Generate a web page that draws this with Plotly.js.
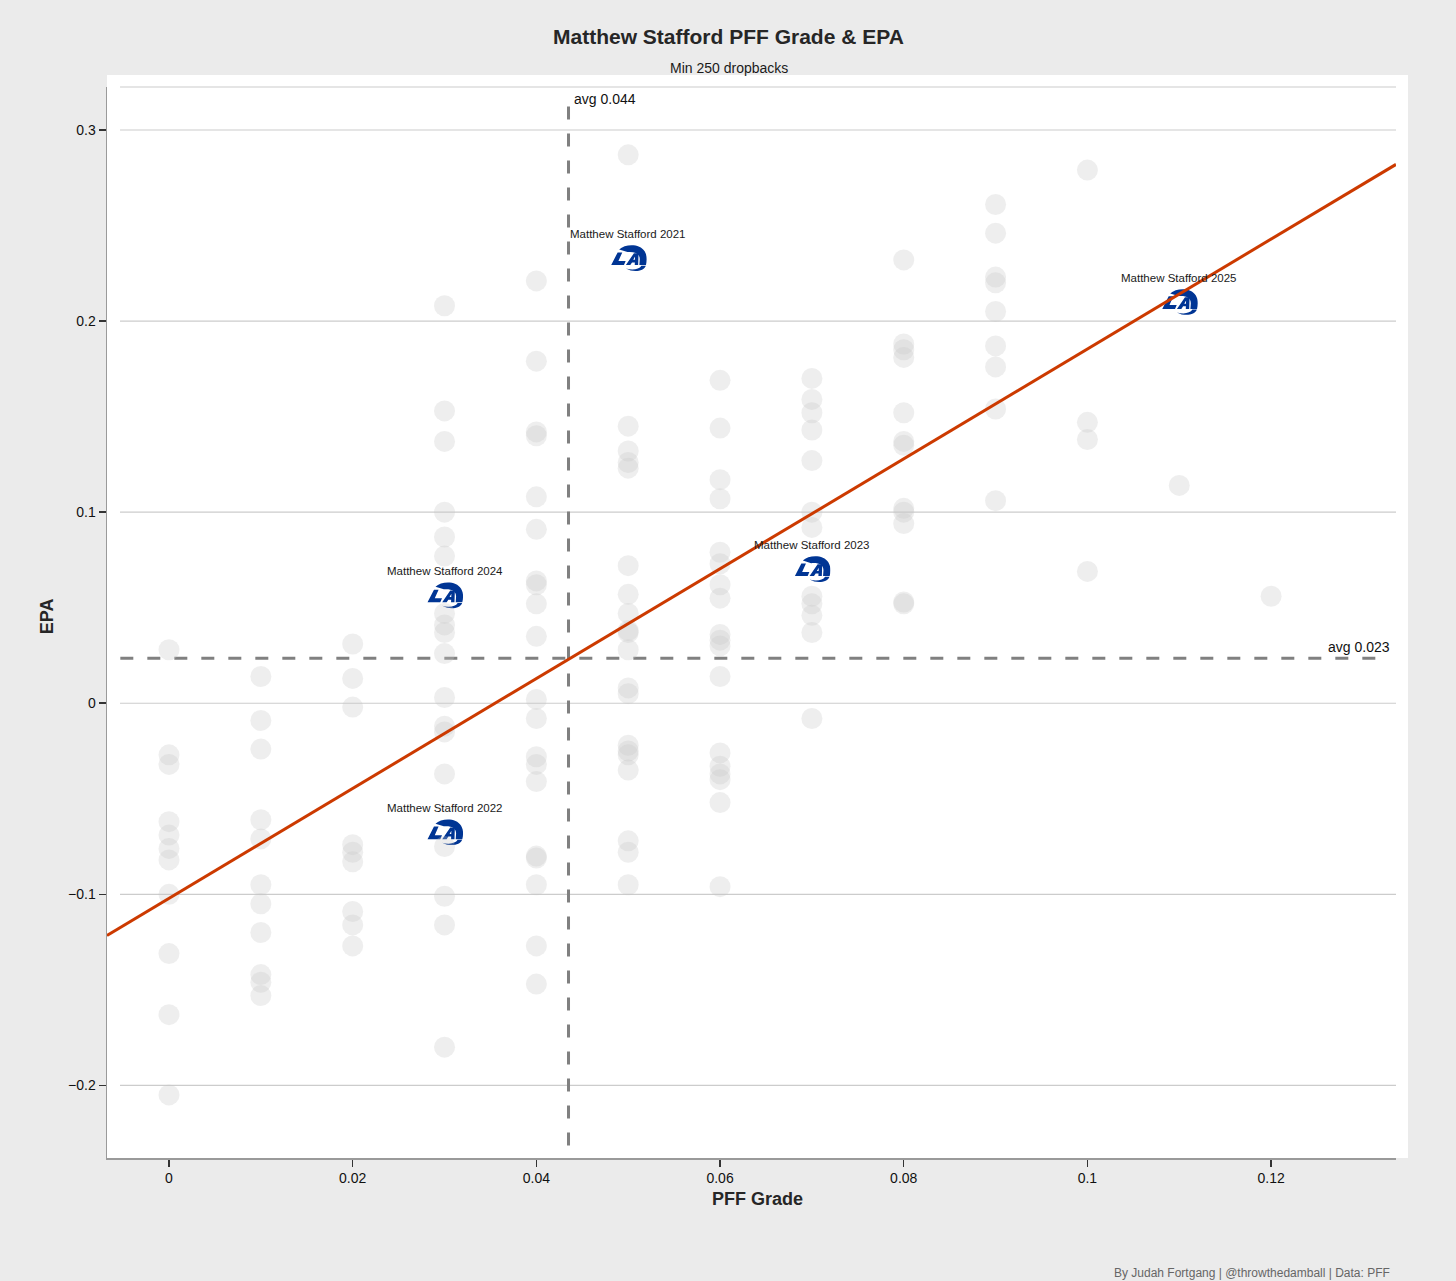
<!DOCTYPE html>
<html>
<head>
<meta charset="utf-8">
<script src="https://cdn.plot.ly/plotly-3.0.1.min.js"></script>
<style>
  html, body { margin: 0; padding: 0; background: #ebebeb; }
  #chart { width: 1456px; height: 1281px; }
</style>
</head>
<body>
<div id="chart"></div>
<script>
// league QB seasons, EPA grouped by PFF grade value
var gradeLevels = [0, 0.01, 0.02, 0.03, 0.04, 0.05, 0.06, 0.07, 0.08, 0.09, 0.1, 0.11, 0.12];
var epaG00 = [0.028, -0.027, -0.032, -0.062, -0.069, -0.076, -0.082, -0.100, -0.131, -0.163, -0.205, -0.244];
var epaG01 = [0.014, -0.009, -0.024, -0.061, -0.071, -0.095, -0.105, -0.120, -0.142, -0.146, -0.153];
var epaG02 = [0.031, 0.013, -0.002, -0.074, -0.078, -0.083, -0.109, -0.116, -0.127];
var epaG03 = [0.208, 0.153, 0.137, 0.100, 0.087, 0.077, 0.047, 0.041, 0.037, 0.026, 0.003, -0.012, -0.015, -0.037, -0.075, -0.101, -0.116, -0.180];
var epaG04 = [0.221, 0.179, 0.142, 0.140, 0.108, 0.091, 0.064, 0.062, 0.052, 0.035, 0.002, -0.008, -0.028, -0.032, -0.041, -0.080, -0.081, -0.095, -0.127, -0.147];
var epaG05 = [0.287, 0.145, 0.132, 0.126, 0.123, 0.072, 0.057, 0.047, 0.038, 0.037, 0.028, 0.008, 0.005, -0.022, -0.025, -0.027, -0.035, -0.072, -0.078, -0.095];
var epaG06 = [0.169, 0.144, 0.117, 0.107, 0.079, 0.073, 0.062, 0.055, 0.036, 0.033, 0.030, 0.014, -0.026, -0.033, -0.037, -0.040, -0.052, -0.096];
var epaG07 = [0.170, 0.159, 0.152, 0.143, 0.127, 0.100, 0.092, 0.056, 0.052, 0.046, 0.037, -0.008];
var epaG08 = [0.328, 0.232, 0.188, 0.185, 0.181, 0.152, 0.137, 0.135, 0.102, 0.100, 0.094, 0.053, 0.052];
var epaG09 = [0.261, 0.246, 0.223, 0.220, 0.205, 0.187, 0.176, 0.154, 0.106];
var epaG10 = [0.279, 0.147, 0.138, 0.069];
var epaG11 = [0.114];
var epaG12 = [0.056];
var epaByGrade = [epaG00, epaG01, epaG02, epaG03, epaG04, epaG05, epaG06, epaG07, epaG08, epaG09, epaG10, epaG11, epaG12];

// Stafford seasons
var staffordSeasons = ["Matthew Stafford 2021", "Matthew Stafford 2022", "Matthew Stafford 2023", "Matthew Stafford 2024", "Matthew Stafford 2025"];
var staffordGrade = [0.05, 0.03, 0.07, 0.03, 0.11];
var staffordEpa = [0.233, -0.0675, 0.0702, 0.0565, 0.2100];

// averages and linear fit
var avgGrade = 0.0435;
var avgEpa = 0.0235;
var avgGradeLabel = "avg 0.044";
var avgEpaLabel = "avg 0.023";
var fitIntercept = -0.1021;
var fitSlope = 2.875;

var yTicks = [-0.2, -0.1, 0, 0.1, 0.2, 0.3];
var xTicks = [0, 0.02, 0.04, 0.06, 0.08, 0.1, 0.12];

// layout geometry
var xRange = [-0.00675, 0.1336];
var yRange = [-0.238, 0.3225];
var refXRange = [-0.0053, 0.1321];
var refYRange = [-0.2314, 0.3157];

var leagueX = [], leagueY = [];
gradeLevels.forEach(function (g, i) {
  epaByGrade[i].forEach(function (v) { leagueX.push(g); leagueY.push(v); });
});

var fitX = [xRange[0], xRange[1]];
var fitY = fitX.map(function (x) { return fitIntercept + fitSlope * x; });

var FONT = "Liberation Sans, Arial, Helvetica, sans-serif";

var league = {
  x: leagueX, y: leagueY, type: "scatter", mode: "markers",
  marker: { size: 21, color: "rgba(200,200,200,0.3)", line: { width: 0 } },
  hoverinfo: "skip", showlegend: false
};
var fit = {
  x: fitX, y: fitY, type: "scatter", mode: "lines",
  line: { color: "#cc3a00", width: 3 },
  hoverinfo: "skip", showlegend: false
};

var logoSvg =
  "<svg xmlns='http://www.w3.org/2000/svg' viewBox='0 0 37 28'>" +
  "<path fill='#003594' d='M9.5 5.5 C15.5 -0.2 30 -0.8 35 7.5 C37.6 12 37.2 17 36.2 21 L29.6 21 L30 15.5 C30.2 10 25.5 7.4 17.8 8.1 Z'/>" +
  "<path fill='#003594' fill-rule='evenodd' d='M16.2 21 L24.2 9.2 L28.8 9.2 L28.4 21 L25 21 L25.1 18.4 L22.3 18.4 L20.6 21 Z M25.3 12.6 L23.5 15.8 L25.2 15.8 Z'/>" +
  "<path fill='#003594' d='M8 8.4 L12.6 8.4 L8.8 17 L16 17 L14.3 21 L1.6 21 Z'/>" +
  "<path fill='#003594' d='M36 21.6 C34.2 27 24 28.8 16.2 24.4 C23 26.6 29.4 25.2 31.6 21.6 Z'/>" +
  "</svg>";
var logoSrc = "data:image/svg+xml;charset=utf-8," + encodeURIComponent(logoSvg);

var images = staffordGrade.map(function (g, i) {
  return {
    source: logoSrc, xref: "x", yref: "y", x: g, y: staffordEpa[i],
    sizex: 0.00405, sizey: 0.0147, xanchor: "center", yanchor: "middle",
    sizing: "stretch", layer: "below"
  };
});

var shapes = [];
// white panel behind plot, slightly larger than the axes area
shapes.push({ type: "rect", xref: "paper", yref: "paper", x0: 0, x1: 1.0093, y0: 0, y1: 1.0112,
  fillcolor: "#ffffff", line: { width: 0 }, layer: "below" });
// horizontal gridlines
yTicks.forEach(function (t) {
  shapes.push({ type: "line", xref: "paper", yref: "y", x0: 0.0101, x1: 1, y0: t, y1: t,
    line: { color: "#cccccc", width: 1.2 }, layer: "below" });
});
shapes.push({ type: "line", xref: "paper", yref: "paper", x0: 0.0101, x1: 1, y0: 1, y1: 1,
  line: { color: "#cccccc", width: 1.2 }, layer: "below" });
// average lines
shapes.push({ type: "line", xref: "x", yref: "y", x0: avgGrade, x1: avgGrade, y0: refYRange[0], y1: refYRange[1],
  line: { color: "#808080", width: 3, dash: "13px,14px" }, layer: "below" });
shapes.push({ type: "line", xref: "x", yref: "y", x0: refXRange[0], x1: refXRange[1], y0: avgEpa, y1: avgEpa,
  line: { color: "#808080", width: 3, dash: "13px,14px" }, layer: "below" });

var annotations = staffordSeasons.map(function (s, i) {
  return {
    text: s, x: staffordGrade[i], y: staffordEpa[i], xref: "x", yref: "y",
    showarrow: false, yshift: 24, xanchor: "center", yanchor: "middle",
    font: { family: FONT, size: 11.5, color: "#1a1a1a" }
  };
});
annotations.push(
  { text: avgGradeLabel, x: avgGrade, xref: "x", y: 0.9888, yref: "paper", xshift: 3,
    xanchor: "left", yanchor: "middle", showarrow: false, font: { family: FONT, size: 14, color: "#111" } },
  { text: avgEpaLabel, x: 0.9969, xref: "paper", y: avgEpa, yref: "y", yshift: 11,
    xanchor: "right", yanchor: "middle", showarrow: false, font: { family: FONT, size: 14, color: "#111" } },
  { text: "<b>Matthew Stafford PFF Grade & EPA</b>", xref: "paper", yref: "paper",
    x: 0.4822, y: 1.0476, xanchor: "center", yanchor: "middle", showarrow: false,
    font: { family: FONT, size: 21, color: "#262626" } },
  { text: "Min 250 dropbacks", xref: "paper", yref: "paper",
    x: 0.4822, y: 1.0177, xanchor: "center", yanchor: "middle", showarrow: false,
    font: { family: FONT, size: 14, color: "#1a1a1a" } },
  { text: "<b>PFF Grade</b>", xref: "paper", yref: "paper",
    x: 0.505, y: -0.0383, xanchor: "center", yanchor: "middle", showarrow: false,
    font: { family: FONT, size: 18, color: "#262626" } },
  { text: "<b>EPA</b>", xref: "paper", yref: "paper", textangle: -90,
    x: -0.0465, y: 0.506, xanchor: "center", yanchor: "middle", showarrow: false,
    font: { family: FONT, size: 18, color: "#262626" } },
  { text: "By Judah Fortgang | @throwthedamball | Data: PFF", xref: "paper", yref: "paper",
    x: 0.9969, y: -0.0990, xanchor: "right", yanchor: "top", showarrow: false,
    font: { family: FONT, size: 12, color: "#666666" } }
);

var layout = {
  width: 1456, height: 1281,
  margin: { l: 107, r: 60, t: 87, b: 123, pad: 0 },
  paper_bgcolor: "#ebebeb",
  plot_bgcolor: "#ffffff",
  font: { family: FONT, size: 14, color: "#111" },
  showlegend: false,
  xaxis: {
    range: xRange, tickvals: xTicks, ticktext: xTicks.map(String),
    showgrid: false, zeroline: false,
    showline: true, linecolor: "#9a9a9a", linewidth: 1.5,
    ticks: "outside", ticklen: 7, tickwidth: 1.5, tickcolor: "#333",
    tickfont: { family: FONT, size: 14, color: "#111" }
  },
  yaxis: {
    range: yRange, tickvals: yTicks,
    showgrid: false, zeroline: false,
    showline: true, linecolor: "#9a9a9a", linewidth: 1.5,
    ticks: "outside", ticklen: 7, tickwidth: 1.5, tickcolor: "#333",
    tickfont: { family: FONT, size: 14, color: "#111" }
  },
  shapes: shapes,
  images: images,
  annotations: annotations
};

Plotly.newPlot("chart", [league, fit], layout, { displayModeBar: false, staticPlot: true });
</script>
</body>
</html>
